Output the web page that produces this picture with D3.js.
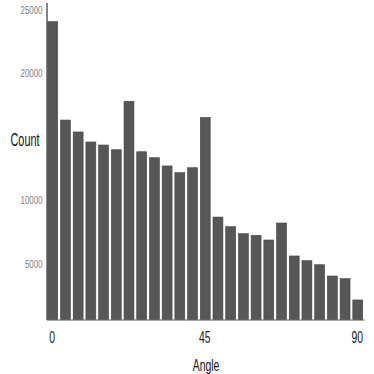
<!DOCTYPE html>
<html>
<head>
<meta charset="utf-8">
<script src="https://cdn.jsdelivr.net/npm/d3@7"></script>
<style>
  html, body { margin: 0; padding: 0; background: #fff; }
  text { font-family: "Liberation Sans", Arial, sans-serif; }
</style>
</head>
<body>
<div id="chart-area"></div>
<script>
const W = 374, H = 374

// angle bins (degrees)
const angles = [0, 3.75, 7.5, 11.25, 15, 18.75, 22.5, 26.25, 30, 33.75, 37.5, 41.25, 45,
  48.75, 52.5, 56.25, 60, 63.75, 67.5, 71.25, 75, 78.75, 82.5, 86.25, 90]
// count per bin
const counts = [23490, 15730, 14790, 14000, 13760, 13390, 17210, 13230, 12760, 12110, 11580, 11970, 15930,
  8080, 7320, 6770, 6640, 6270, 7610, 5010, 4640, 4320, 3430, 3220, 1540]
const xTicks = [0, 45, 90]
const yTicks = [5000, 10000, 20000, 25000]

const data = angles.map((a, i) => ({ angle: a, count: counts[i] }))

const svg = d3.select("#chart-area").append("svg")
  .attr("width", W)
  .attr("height", H)

const x = d3.scaleBand()
  .domain(angles)
  .range([46.5, 364])
  .paddingInner(0.22)
  .paddingOuter(0.1)

const y = d3.scaleLinear()
  .domain([0, 25000])
  .range([319.5, 2.5])

// bars
svg.append("g").selectAll("rect")
  .data(data)
  .enter().append("rect")
    .attr("x", d => x(d.angle))
    .attr("y", d => y(d.count))
    .attr("width", x.bandwidth())
    .attr("height", d => y(0) - y(d.count))
    .attr("fill", "#575757")
    .attr("stroke", "#444")
    .attr("stroke-width", 0.6)

// x axis
const xAxisGroup = svg.append("g")
  .attr("transform", `translate(0, ${y(0)})`)
  .call(d3.axisBottom(x).tickValues(xTicks).tickSize(0).tickSizeOuter(0))
xAxisGroup.select(".domain").attr("stroke", "#555").attr("stroke-width", 1.2)
xAxisGroup.selectAll("text")
  .attr("y", 0)
  .attr("dy", 0)
  .attr("transform", "translate(-0.5, 23.5) scale(0.65, 1)")
  .attr("font-size", "16px")
  .attr("fill", "#222")

// y axis
const yAxisGroup = svg.append("g")
  .attr("transform", "translate(46.5, 0)")
  .call(d3.axisLeft(y).tickValues(yTicks).tickFormat(d3.format("d")).tickSize(0).tickSizeOuter(0))
yAxisGroup.select(".domain").attr("stroke", "#444").attr("stroke-width", 1.3)
yAxisGroup.selectAll("text")
  .attr("x", 0)
  .attr("dy", "1em")
  .attr("transform", "translate(-4, 0) scale(0.72, 1)")
  .attr("font-size", "11px")
  .attr("fill", "#808080")

// axis titles
svg.append("text")
  .attr("transform", "translate(25, 146) scale(0.62, 1)")
  .attr("text-anchor", "middle")
  .attr("font-size", "17.5px")
  .attr("fill", "#111")
  .text("Count")

svg.append("text")
  .attr("transform", "translate(206, 370.5) scale(0.65, 1)")
  .attr("text-anchor", "middle")
  .attr("font-size", "16px")
  .attr("fill", "#111")
  .text("Angle")
</script>
</body>
</html>
